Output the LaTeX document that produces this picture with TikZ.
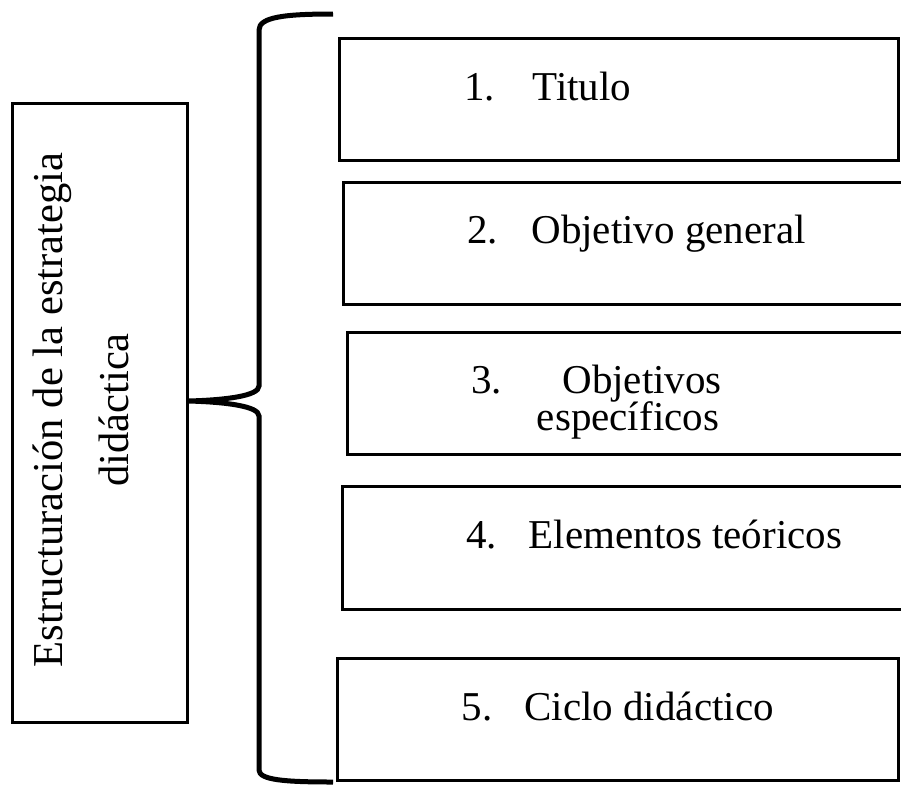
\documentclass[tikz,border=0pt]{standalone}
\usepackage{fontspec}
\setmainfont{Liberation Serif}
\tikzset{bx/.style = {rectangle, draw, line width=1.5pt, inner sep=0pt},
         tx/.style = {inner sep=0pt, anchor=base west, font=\fontsize{20.5}{24}\selectfont},
         vt/.style = {inner sep=0pt, anchor=base, rotate=90, font=\fontsize{21.3}{25}\selectfont},
         brc/.style = {line width=2.5pt}}

\begin{document}
\begin{tikzpicture}[x=0.5pt, y=-0.5pt]
    \useasboundingbox (0,0) rectangle (901,784);
    \clip (0,0) rectangle (901,784);
    \node[bx, minimum width=87.5pt, minimum height=309.5pt] (est) at (99.5,412.5) {};
    \node[vt] (est1) at (62,410) {Estructuración de la estrategia};
    \node[vt] (est2) at (128,410) {didáctica};
    \node[bx, minimum width=279.5pt, minimum height=61pt] (b1) at (618.5,99) {};
    \node[bx, minimum width=281.5pt, minimum height=61pt] (b2) at (624.5,243) {};
    \node[bx, minimum width=279.25pt, minimum height=61pt] (b3) at (626.75,393) {};
    \node[bx, minimum width=282pt, minimum height=61.5pt] (b4) at (624,547.5) {};
    \node[bx, minimum width=280.5pt, minimum height=61pt] (b5) at (617.5,719) {};
    \node[tx] (n1) at (464,100) {1.};   \node[tx] (t1) at (532,100) {Titulo};
    \node[tx] (n2) at (467,243) {2.};   \node[tx] (t2) at (531,243) {Objetivo general};
    \node[tx] (n3) at (471,393) {3.};   \node[tx] (t3) at (562,393) {Objetivos};
    \node[tx, anchor=base] (t3b) at (628,430) {específicos};
    \node[tx] (n4) at (466,548) {4.};   \node[tx] (t4) at (528.5,548) {Elementos teóricos};
    \node[tx] (n5) at (461.5,720) {5.}; \node[tx] (t5) at (524,720) {Ciclo didáctico};
    \coordinate (bt) at (333,14); \coordinate (tip) at (est.east |- 0,401); \coordinate (bb) at (333,782);
    \draw[brc] (bt) .. controls (285,14) and (259,17) .. (259,30) -- (259,386)
        .. controls (259,396) and (225,400) .. (tip)
        .. controls (225,402) and (259,406) .. (259,416) -- (259,770)
        .. controls (259,780) and (285,782) .. (bb);
\end{tikzpicture}
\end{document}
